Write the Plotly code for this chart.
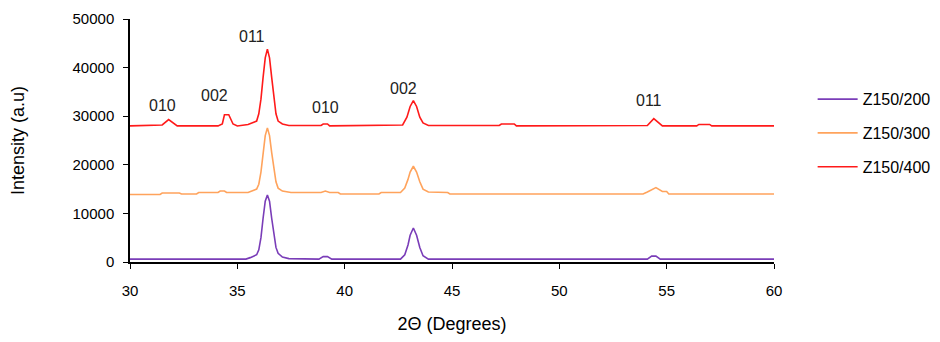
import plotly.graph_objects as go

# ---- data ----
x_200 = [30, 35.4, 35.6, 35.9, 36.0, 36.1, 36.2, 36.3, 36.4, 36.5, 36.6, 36.7, 36.8, 36.9, 37.1, 37.4,
         38.8, 39.0, 39.2, 39.4, 42.6, 42.8, 42.95, 43.05, 43.2, 43.35, 43.5, 43.65, 43.9,
         54.1, 54.3, 54.5, 54.7, 60]
y_200 = [600, 600, 900, 1500, 2500, 5000, 9000, 12500, 13800, 12500, 9000, 5500, 3000, 1800, 1000, 700,
         600, 1100, 1100, 600, 600, 1500, 3500, 5500, 7000, 5500, 3000, 1300, 600,
         600, 1200, 1200, 600, 600]

x_300 = [30, 31.4, 31.5, 32.3, 32.4, 33.1, 33.2, 34.1, 34.2, 34.4, 34.5, 35.5, 35.9,
         36.0, 36.1, 36.2, 36.3, 36.4, 36.5, 36.6, 36.7, 36.8, 36.9, 37.1, 37.5, 38.9, 39.1, 39.3, 39.7, 39.8,
         41.6, 41.7, 42.6, 42.8, 42.95, 43.05, 43.2, 43.35, 43.5, 43.65, 43.9, 44.8, 44.9,
         53.9, 54.1, 54.5, 54.8, 55.0, 55.1, 60]
y_300 = [13900, 13900, 14200, 14200, 14000, 14000, 14300, 14300, 14600, 14600, 14300, 14300, 15000,
         16000, 18500, 22500, 26000, 27600, 26000, 22500, 19000, 16500, 15200, 14600, 14300, 14300, 14600, 14300, 14300, 14000,
         14000, 14300, 14300, 15200, 17000, 18500, 19700, 18500, 16500, 15000, 14400, 14300, 14000,
         14000, 14400, 15300, 14500, 14500, 14000, 14000]

x_400 = [30, 31.5, 31.8, 32.0, 32.2, 34.1, 34.3, 34.4, 34.6, 34.8, 35.0, 35.5, 35.9,
         36.0, 36.1, 36.2, 36.3, 36.4, 36.5, 36.6, 36.7, 36.8, 36.9, 37.1, 37.4, 38.9, 39.0, 39.2, 39.3,
         42.7, 42.9, 43.05, 43.2, 43.35, 43.5, 43.65, 43.9, 47.2, 47.3, 47.9, 48.0,
         54.1, 54.4, 54.7, 54.8, 56.4, 56.5, 57.0, 57.1, 60]
y_400 = [28000, 28200, 29300, 28600, 28000, 28000, 28400, 30300, 30300, 28400, 28000, 28300, 29000,
         30500, 33500, 38000, 42000, 43800, 42000, 38000, 33500, 30500, 29000, 28400, 28100, 28100, 28400, 28400, 28000,
         28200, 29800, 32000, 33200, 32000, 29800, 28600, 28100, 28100, 28400, 28400, 28000,
         28100, 29500, 28400, 28000, 28000, 28300, 28300, 28000, 28000]

series_names = ["Z150/200", "Z150/300", "Z150/400"]
series_colors = ["#7a3db8", "#ffa35c", "#ff1a1a"]

peak_labels = ["010", "002", "011", "010", "002", "011"]
peak_x = [31.5, 33.95, 35.7, 39.1, 42.75, 54.2]
peak_y = [32100, 34200, 46400, 31700, 35700, 33200]

# ---- figure ----
fig = go.Figure()
for xs, ys, name, col in zip([x_200, x_300, x_400], [y_200, y_300, y_400], series_names, series_colors):
    fig.add_trace(go.Scatter(x=xs, y=ys, mode="lines", name=name, legendgroup=name,
                             line=dict(color=col, width=1.6)))

for lab, px, py in zip(peak_labels, peak_x, peak_y):
    fig.add_annotation(x=px, y=py, text=lab, showarrow=False,
                       font=dict(family="Liberation Sans, Arial", size=16, color="#222222"))

fig.update_layout(
    width=940, height=342,
    margin=dict(l=130, r=166, t=19, b=80, autoexpand=False),
    paper_bgcolor="white", plot_bgcolor="white",
    font=dict(family="Liberation Sans, Arial", size=15, color="#000000"),
    legend=dict(x=1.06, y=0.53, xanchor="left", yanchor="middle",
                font=dict(size=16), tracegroupgap=10, itemwidth=40, bgcolor="rgba(0,0,0,0)"),
    showlegend=True,
)
fig.update_xaxes(range=[30, 60], tickvals=[30, 35, 40, 45, 50, 55, 60],
                 showline=True, linecolor="#000000", linewidth=1.5,
                 ticks="outside", ticklen=5, tickcolor="#000000", showgrid=False, zeroline=False,
                 ticklabelstandoff=9,
                 title=dict(text="2Θ (Degrees)", standoff=20), tickfont=dict(size=15))
fig.update_yaxes(range=[0, 50000], tickvals=[0, 10000, 20000, 30000, 40000, 50000],
                 tickformat="d",
                 showline=True, linecolor="#000000", linewidth=1.5,
                 ticks="outside", ticklen=5, tickcolor="#000000", showgrid=False, zeroline=False,
                 ticklabelstandoff=6,
                 title=dict(text="Intensity (a.u)", standoff=43), tickfont=dict(size=15))

fig.write_html("out.html")
